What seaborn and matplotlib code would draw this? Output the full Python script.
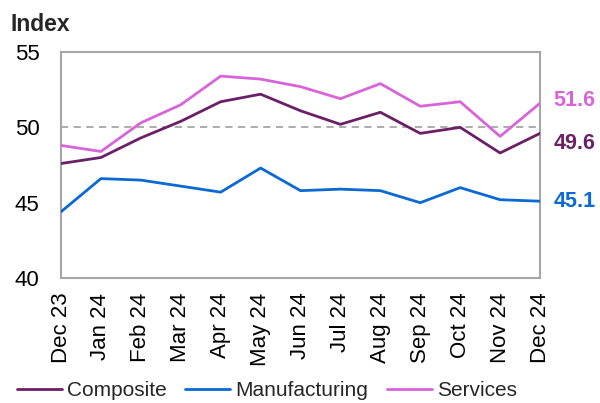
import matplotlib

matplotlib.use("Agg")
import matplotlib.pyplot as plt
import pandas as pd
import seaborn as sns

months = ["Dec 23", "Jan 24", "Feb 24", "Mar 24", "Apr 24", "May 24", "Jun 24",
          "Jul 24", "Aug 24", "Sep 24", "Oct 24", "Nov 24", "Dec 24"]
composite = [47.6, 48.0, 49.3, 50.4, 51.7, 52.2, 51.1, 50.2, 51.0, 49.6, 50.0, 48.3, 49.6]
manufacturing = [44.4, 46.6, 46.5, 46.1, 45.7, 47.3, 45.8, 45.9, 45.8, 45.0, 46.0, 45.2, 45.1]
services = [48.8, 48.4, 50.3, 51.5, 53.4, 53.2, 52.7, 51.9, 52.9, 51.4, 51.7, 49.4, 51.6]
end_labels = ["49.6", "45.1", "51.6"]

colors = {"Composite": "#6B1F66", "Manufacturing": "#0A69D2", "Services": "#D964DA"}

df = pd.DataFrame({"Month": months, "Composite": composite,
                   "Manufacturing": manufacturing, "Services": services})
long = df.melt(id_vars="Month", var_name="Series", value_name="Index")
long["pos"] = long["Month"].map({m: i for i, m in enumerate(months)})

sns.set_theme(style="white")
plt.rcParams["font.family"] = ["Liberation Sans", "DejaVu Sans"]

fig = plt.figure(figsize=(6, 4.03), dpi=100)
ax = fig.add_axes([0.1017, 0.31, 0.7983, 0.561])

ax.axhline(50, color="#a6a6a6", lw=1.3, ls=(0, (4, 3)), zorder=1)
sns.lineplot(data=long, x="pos", y="Index", hue="Series", palette=colors,
             linewidth=2.0, ax=ax, legend=True, zorder=3)

ax.set_xlim(0, len(months) - 1)
ax.set_ylim(40, 55)
ax.set_yticks([40, 45, 50, 55])
ax.set_xticks(range(len(months)))
ax.set_xticklabels(months, rotation=90)
ax.tick_params(axis="both", length=0, labelsize=16, colors="black")
ax.tick_params(axis="y", pad=15.5)
ax.tick_params(axis="x", pad=10.5)
ax.set_xlabel("")
ax.set_ylabel("")
for s in ax.spines.values():
    s.set_color("#a6a6a6")
    s.set_linewidth(1.5)

# end-of-line value labels
last = len(months) - 1
offsets = {"Composite": -0.65, "Manufacturing": 0.0, "Services": 0.2}
for name, lab in zip(["Composite", "Manufacturing", "Services"], end_labels):
    val = df[name].iloc[-1]
    ax.annotate(lab, xy=(last, val + offsets[name]), xytext=(9.5, 0),
                textcoords="offset points", va="center", ha="left",
                fontsize=15.5, fontweight="bold", color=colors[name],
                annotation_clip=False)

fig.text(0.017, 0.94, "Index", fontsize=16.5, fontweight="bold", va="center")

handles, labels = ax.get_legend_handles_labels()
ax.get_legend().remove()
fig.legend(handles, labels, loc="lower center", bbox_to_anchor=(0.445, -0.04),
           ncol=3, frameon=False, fontsize=15, handlelength=2.16,
           handletextpad=0.25, columnspacing=0.87)

fig.savefig("out.png", dpi=100)
